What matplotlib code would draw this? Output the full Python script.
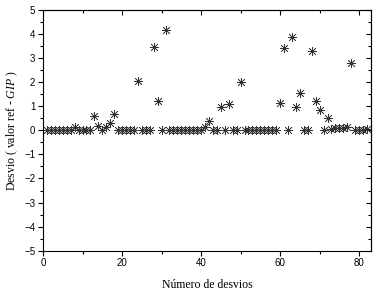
import matplotlib
matplotlib.use("Agg")
import matplotlib.pyplot as plt
from matplotlib.ticker import MultipleLocator

# Data
deviation_index = list(range(1, 83))
deviation_values = [
    0, 0, 0, 0, 0, 0, 0, 0.12, 0, 0,          # 1-10
    0, 0, 0.6, 0.2, 0.0, 0.14, 0.3, 0.69, 0, 0,  # 11-20
    0, 0, 0, 2.03, 0, 0, 0, 3.47, 1.2, 0,     # 21-30
    4.17, 0, 0, 0, 0, 0, 0, 0, 0, 0,          # 31-40
    0.15, 0.38, 0, 0, 0.95, 0, 1.1, 0, 0, 2.0,  # 41-50
    0, 0, 0, 0, 0, 0, 0, 0, 0, 1.13,          # 51-60
    3.41, 0, 3.88, 0.97, 1.56, 0, 0, 3.29, 1.22, 0.85,  # 61-70
    0, 0.53, 0.05, 0.1, 0.08, 0.1, 0.12, 2.8, 0.0, 0.0,  # 71-80
    0.0, 0.05,                                 # 81-82
]
x_ticks = [0, 20, 40, 60, 80]
y_ticks = [-5, -4, -3, -2, -1, 0, 1, 2, 3, 4, 5]
x_label = "Número de desvios"
y_label = r"Desvio ( valor ref - $\mathit{GIP}$ )"

plt.rcParams["mathtext.fontset"] = "custom"
plt.rcParams["mathtext.rm"] = "Liberation Serif"
plt.rcParams["mathtext.it"] = "Liberation Serif:italic"

fig = plt.figure(figsize=(3.82, 2.92), dpi=100)
ax = fig.add_axes([43 / 382, 1 - 250.7 / 292, (371 - 43) / 382, (250.7 - 10) / 292])

ax.plot(deviation_index, deviation_values, linestyle="none", marker=(8, 2, 0),
        markersize=6.5, markeredgewidth=0.5, color="#333333")

ax.set_xlim(0, 83)
ax.set_ylim(-5, 5)
ax.set_xticks(x_ticks)
ax.set_yticks(y_ticks)
ax.xaxis.set_minor_locator(MultipleLocator(10))
ax.yaxis.set_minor_locator(MultipleLocator(0.5))

for lab in ax.get_xticklabels() + ax.get_yticklabels():
    lab.set_family("Liberation Sans")
    lab.set_fontsize(7)

ax.tick_params(which="both", direction="out", top=False, right=False, width=0.8, pad=2)
ax.tick_params(which="major", length=3.5)
ax.tick_params(which="minor", length=2)

# mirrored inward ticks on top/right
ax2 = ax.secondary_xaxis("top")
ax2.set_xticks(x_ticks)
ax2.xaxis.set_minor_locator(MultipleLocator(10))
ax2.tick_params(which="both", direction="in", labeltop=False, width=0.8)
ax2.tick_params(which="major", length=3.5)
ax2.tick_params(which="minor", length=2)
ax3 = ax.secondary_yaxis("right")
ax3.set_yticks(y_ticks)
ax3.yaxis.set_minor_locator(MultipleLocator(0.5))
ax3.tick_params(which="both", direction="in", labelright=False, width=0.8)
ax3.tick_params(which="major", length=3.5)
ax3.tick_params(which="minor", length=2)

for sp in ax.spines.values():
    sp.set_linewidth(0.8)

ax.set_xlabel(x_label, family="Liberation Serif", fontsize=8.5, labelpad=8)
ax.set_ylabel(y_label, family="Liberation Serif", fontsize=8.5, labelpad=3)

fig.savefig("out.png", dpi=100)
